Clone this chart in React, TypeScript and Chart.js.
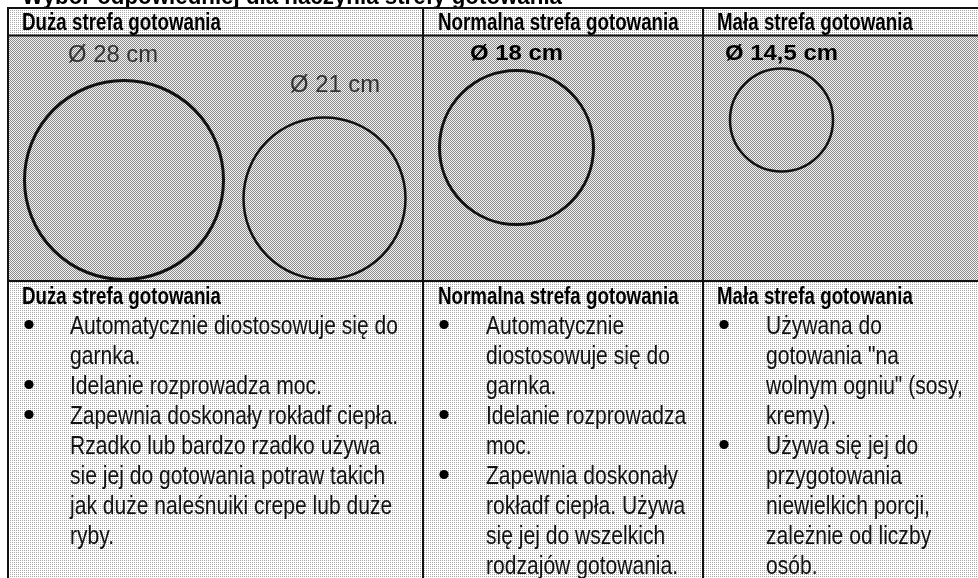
import React, { useEffect, useRef } from "react";
import { Chart, registerables } from "chart.js";

Chart.register(...registerables);

// ---------- data ----------
const titleText = "Wybór odpowiedniej dla naczynia strefy gotowania";
const zoneNames = ["Duża strefa gotowania", "Normalna strefa gotowania", "Mała strefa gotowania"];

const diameterLabels = ["Ø 28 cm", "Ø 21 cm", "Ø 18 cm", "Ø 14,5 cm"];
const diameterBold = [false, false, true, true];
// circle centres / radii in diagram units (1 unit = 1 px)
const circleX = [124, 324.5, 516.5, 781.5];
const circleY = [180, 198.5, 147.5, 120];
const circleRadius = [99.5, 81, 77, 51.5];
const circleBorder = [3, 2.5, 3, 2.5];

const col1Items = [
  ["Automatycznie diostosowuje się do", "garnka."],
  ["Idelanie rozprowadza moc."],
  [
    "Zapewnia doskonały rokładf ciepła.",
    "Rzadko lub bardzo rzadko używa",
    "sie jej do gotowania potraw takich",
    "jak duże naleśnuiki crepe lub duże",
    "ryby.",
  ],
];
const col2Items = [
  ["Automatycznie", "diostosowuje się do", "garnka."],
  ["Idelanie rozprowadza", "moc."],
  ["Zapewnia doskonały", "rokładf ciepła. Używa", "się jej do wszelkich", "rodzajów gotowania."],
];
const col3Items = [
  ["Używana do", "gotowania \"na", "wolnym ogniu\" (sosy,", "kremy)."],
  ["Używa się jej do", "przygotowania", "niewielkich porcji,", "zależnie od liczby", "osób."],
];
const columnItems = [col1Items, col2Items, col3Items];

// ---------- layout ----------
const W = 978;
const H = 578;
const L = {
  tableTop: 8,
  headerLine: 35.5,
  rowLine: 281,
  colLines: [8, 423, 703],
  headerTextX: [22, 438, 717],
  headerBaseline: 30,
  lowerHeaderBaseline: 304,
  bulletX: [29, 444, 724],
  bodyX: [70, 486, 766],
  bodyFirstBaseline: 334,
  bodyLineGap: 30,
  labelX: [68, 290, 470, 725],
  labelBaseline: [62, 92, 60, 60],
};

const HEADER_FONT = 'bold 23px "Liberation Sans", Arial, sans-serif';
const BODY_FONT = '25px "Liberation Sans", Arial, sans-serif';
const LIGHT_LABEL_FONT = '23px "Liberation Sans", Arial, sans-serif';
const BOLD_LABEL_FONT = 'bold 22px "Liberation Sans", Arial, sans-serif';
const TITLE_FONT = 'bold 24px "Liberation Sans", Arial, sans-serif';

function fitScale(ctx: CanvasRenderingContext2D, font: string, text: string, target: number) {
  ctx.save();
  ctx.font = font;
  const w = ctx.measureText(text).width;
  ctx.restore();
  return w > 0 ? target / w : 1;
}

function drawScaled(
  ctx: CanvasRenderingContext2D,
  text: string,
  x: number,
  y: number,
  font: string,
  sx: number,
  color: string
) {
  ctx.save();
  ctx.font = font;
  ctx.fillStyle = color;
  ctx.textAlign = "left";
  ctx.textBaseline = "alphabetic";
  ctx.translate(x, y);
  ctx.scale(sx, 1);
  ctx.fillText(text, 0, 0);
  ctx.restore();
}

function makePattern(ctx: CanvasRenderingContext2D, dark: boolean) {
  const c = document.createElement("canvas");
  c.width = 2;
  c.height = 2;
  const p = c.getContext("2d")!;
  if (dark) {
    p.fillStyle = "#f4f4f4";
    p.fillRect(0, 0, 2, 2);
    p.fillStyle = "#8a8a8a";
    p.fillRect(0, 0, 1, 1);
    p.fillRect(1, 1, 1, 1);
  } else {
    p.fillStyle = "#ffffff";
    p.fillRect(0, 0, 2, 2);
    p.fillStyle = "#a8a8a8";
    p.fillRect(0, 0, 1, 1);
  }
  return ctx.createPattern(c, "repeat")!;
}

const tablePlugin = {
  id: "tablePlugin",
  beforeDatasetsDraw(chart: any) {
    const ctx: CanvasRenderingContext2D = chart.ctx;
    const xs = chart.scales.x;
    const ys = chart.scales.y;
    const px = (v: number) => xs.getPixelForValue(v);
    const py = (v: number) => ys.getPixelForValue(v);
    ctx.save();
    ctx.fillStyle = "#ffffff";
    ctx.fillRect(0, 0, chart.width, chart.height);

    // title (only its lower edge is visible)
    const sxTitle = fitScale(ctx, TITLE_FONT, titleText, 540);
    drawScaled(ctx, titleText, px(22), py(4), TITLE_FONT, sxTitle, "#000");

    const light = makePattern(ctx, false);
    const dark = makePattern(ctx, true);
    const left = px(L.colLines[0]);
    const right = px(W);
    ctx.fillStyle = light;
    ctx.fillRect(left, py(L.tableTop), right - left, py(L.headerLine) - py(L.tableTop));
    ctx.fillStyle = dark;
    ctx.fillRect(left, py(L.headerLine), right - left, py(L.rowLine) - py(L.headerLine));
    ctx.fillStyle = light;
    ctx.fillRect(left, py(L.rowLine), right - left, py(H) - py(L.rowLine));
    ctx.restore();
  },
  afterDatasetsDraw(chart: any) {
    const ctx: CanvasRenderingContext2D = chart.ctx;
    const xs = chart.scales.x;
    const ys = chart.scales.y;
    const px = (v: number) => xs.getPixelForValue(v);
    const py = (v: number) => ys.getPixelForValue(v);

    ctx.save();
    // grid lines
    ctx.strokeStyle = "#111";
    ctx.lineWidth = 2;
    ctx.beginPath();
    [L.tableTop, L.headerLine, L.rowLine].forEach((y) => {
      ctx.moveTo(px(L.colLines[0]) - 1, py(y));
      ctx.lineTo(px(W), py(y));
    });
    L.colLines.forEach((x) => {
      ctx.moveTo(px(x), py(L.tableTop) - 1);
      ctx.lineTo(px(x), py(H));
    });
    ctx.stroke();

    const sxHeader = fitScale(ctx, HEADER_FONT, zoneNames[0], 199);
    const sxBody = fitScale(ctx, BODY_FONT, col1Items[0][0], 328);
    const sxLight = fitScale(ctx, LIGHT_LABEL_FONT, diameterLabels[0], 90);
    const sxBold = fitScale(ctx, BOLD_LABEL_FONT, diameterLabels[2], 93);

    // header row and lower headers
    zoneNames.forEach((name, i) => {
      drawScaled(ctx, name, px(L.headerTextX[i]), py(L.headerBaseline), HEADER_FONT, sxHeader, "#000");
      drawScaled(ctx, name, px(L.headerTextX[i]), py(L.lowerHeaderBaseline), HEADER_FONT, sxHeader, "#000");
    });

    // diameter labels
    diameterLabels.forEach((lab, i) => {
      const bold = diameterBold[i];
      drawScaled(
        ctx,
        lab,
        px(L.labelX[i]),
        py(L.labelBaseline[i]),
        bold ? BOLD_LABEL_FONT : LIGHT_LABEL_FONT,
        bold ? sxBold : sxLight,
        bold ? "#000" : "#333"
      );
    });

    // bullet lists
    columnItems.forEach((items, c) => {
      let line = 0;
      items.forEach((lines) => {
        const by = L.bodyFirstBaseline + line * L.bodyLineGap;
        ctx.fillStyle = "#000";
        ctx.beginPath();
        ctx.arc(px(L.bulletX[c]), py(by - 9.5), 4.6, 0, Math.PI * 2);
        ctx.fill();
        lines.forEach((t) => {
          const y = L.bodyFirstBaseline + line * L.bodyLineGap;
          drawScaled(ctx, t, px(L.bodyX[c]), py(y), BODY_FONT, sxBody, "#111");
          line++;
        });
      });
    });
    ctx.restore();
  },
};

export default function App() {
  const ref = useRef<HTMLCanvasElement | null>(null);
  useEffect(() => {
    if (!ref.current) return;
    const chart = new Chart(ref.current, {
      type: "scatter",
      data: {
        datasets: [
          {
            data: circleX.map((x, i) => ({ x, y: circleY[i] })),
            pointRadius: circleRadius,
            pointHoverRadius: circleRadius,
            pointBorderWidth: circleBorder,
            pointBorderColor: "#111",
            pointBackgroundColor: "rgba(0,0,0,0)",
            clip: false,
          } as any,
        ],
      },
      options: {
        animation: false,
        responsive: false,
        maintainAspectRatio: false,
        events: [],
        layout: { padding: 0, autoPadding: false },
        plugins: { legend: { display: false }, tooltip: { enabled: false } },
        scales: {
          x: { type: "linear", min: 0, max: W, display: false },
          y: { type: "linear", min: 0, max: H, reverse: true, display: false },
        },
      },
      plugins: [tablePlugin as any],
    });
    return () => chart.destroy();
  }, []);
  return (
    <div style={{ position: "absolute", left: 0, top: 0, width: W, height: H }}>
      <canvas ref={ref} width={W} height={H} style={{ display: "block", width: W, height: H }} />
    </div>
  );
}
